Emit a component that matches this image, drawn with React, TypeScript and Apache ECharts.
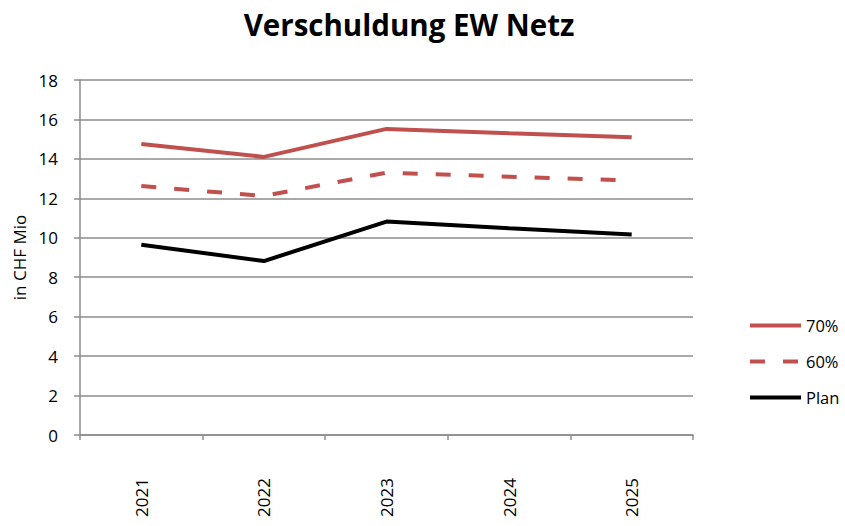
import React, { useEffect, useRef } from "react";
import * as echarts from "echarts";

const years = ["2021", "2022", "2023", "2024", "2025"];
const s70 = [14.75, 14.1, 15.52, 15.3, 15.1];
const s60 = [12.62, 12.12, 13.3, 13.1, 12.9];
const plan = [9.65, 8.82, 10.82, 10.48, 10.16];
const yTicks = { min: 0, max: 18, interval: 2 };

const FONT = "'Open Sans', 'Noto Sans', sans-serif";
const RED = "#C0504D";

export default function App() {
  const ref = useRef<HTMLDivElement>(null);
  useEffect(() => {
    if (!ref.current) return;
    const chart = echarts.init(ref.current, null, { renderer: "svg" });
    chart.setOption({
      animation: false,
      backgroundColor: "#ffffff",
      textStyle: { fontFamily: FONT, color: "#000" },
      title: {
        text: "Verschuldung EW Netz",
        left: 404,
        textAlign: "center",
        top: 4,
        textStyle: { fontFamily: FONT, fontSize: 29.5, fontWeight: "bold", color: "#000" },
      },
      grid: { left: 80, right: 152, top: 80, bottom: 91, containLabel: false },
      legend: {
        orient: "vertical",
        left: 748,
        top: 317,
        padding: 0,
        itemWidth: 51,
        itemHeight: 18,
        itemGap: 19,
        itemStyle: { opacity: 0 },
        lineStyle: { width: 4 },
        textStyle: { fontFamily: FONT, fontSize: 16.5, color: "#000", padding: [0, 0, 0, 0] },
        data: ["70%", "60%", "Plan"],
      },
      xAxis: {
        type: "category",
        data: years,
        boundaryGap: true,
        axisLine: { lineStyle: { color: "#8c8c8c", width: 1.5 } },
        axisTick: { show: true, length: 5, lineStyle: { color: "#8c8c8c", width: 1.5 } },
        axisLabel: { rotate: 90, margin: 43, fontFamily: FONT, fontSize: 17, color: "#000" },
      },
      yAxis: {
        type: "value",
        min: yTicks.min,
        max: yTicks.max,
        interval: yTicks.interval,
        name: "in CHF Mio",
        nameLocation: "middle",
        nameRotate: 90,
        nameGap: 52,
        nameTextStyle: { fontFamily: FONT, fontSize: 17, color: "#000" },
        axisLine: { show: true, lineStyle: { color: "#8c8c8c", width: 1.5 } },
        axisTick: { show: true, length: 6, lineStyle: { color: "#8c8c8c", width: 1.5 } },
        splitLine: { lineStyle: { color: "#8c8c8c", width: 1.5 } },
        axisLabel: { margin: 22, fontFamily: FONT, fontSize: 17, color: "#000" },
      },
      series: [
        {
          name: "70%",
          type: "line",
          data: s70,
          symbol: "none",
          lineStyle: { color: RED, width: 4 },
          itemStyle: { color: RED },
        },
        {
          name: "60%",
          type: "line",
          data: s60,
          symbol: "none",
          lineStyle: { color: RED, width: 4, type: [15, 18] },
          itemStyle: { color: RED },
        },
        {
          name: "Plan",
          type: "line",
          data: plan,
          symbol: "none",
          lineStyle: { color: "#000", width: 4 },
          itemStyle: { color: "#000" },
        },
      ],
    });
    return () => chart.dispose();
  }, []);
  return <div ref={ref} style={{ width: 845, height: 526, position: "absolute", left: 0, top: 0 }} />;
}
